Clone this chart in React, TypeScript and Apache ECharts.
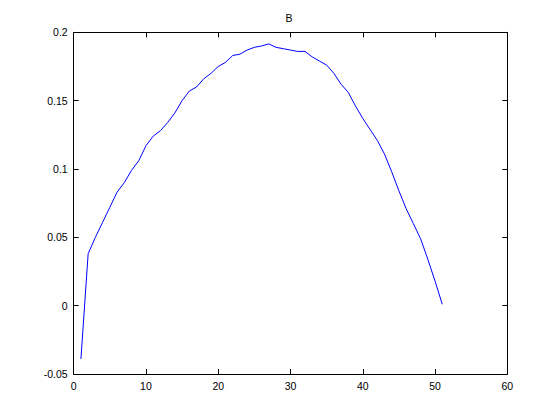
import React, { useEffect, useRef } from "react";
import * as echarts from "echarts";

const xValues = Array.from({ length: 51 }, (_, i) => i + 1);
const yValues = [
  -0.039, 0.038, 0.05, 0.061, 0.072, 0.083, 0.09, 0.099, 0.106, 0.117,
  0.124, 0.128, 0.134, 0.141, 0.15, 0.157, 0.16, 0.166, 0.17, 0.175,
  0.178, 0.183, 0.184, 0.187, 0.189, 0.19, 0.1915, 0.189, 0.188, 0.187,
  0.186, 0.186, 0.182, 0.179, 0.176, 0.17, 0.162, 0.156, 0.146, 0.137,
  0.129, 0.121, 0.111, 0.098, 0.084, 0.071, 0.06, 0.049, 0.034, 0.018,
  0.001,
];
const titleText = "B";

export default function App() {
  const ref = useRef<HTMLDivElement>(null);
  useEffect(() => {
    if (!ref.current) return;
    const chart = echarts.init(ref.current, null, { renderer: "svg" });
    const font = "Liberation Sans, Arial, sans-serif";
    const axisLine = { show: true, onZero: false, lineStyle: { color: "#000", width: 1 } };
    const tick = { show: true, inside: true, length: 5, lineStyle: { color: "#000" } };
    const fmt = (v: number) => String(Math.round(v * 1000) / 1000);
    chart.setOption({
      animation: false,
      backgroundColor: "#fff",
      title: {
        text: titleText,
        left: 285.5,
        top: 12,
        padding: 0,
        textStyle: { fontFamily: font, fontSize: 10.5, fontWeight: "normal", color: "#000" },
      },
      grid: { left: 73.7, right: 52.7, top: 32.3, bottom: 46, containLabel: false },
      xAxis: [
        {
          type: "value", min: 0, max: 60, interval: 10, position: "bottom",
          axisLine, axisTick: tick, splitLine: { show: false },
          axisLabel: { color: "#000", fontFamily: font, fontSize: 10.5, margin: 6 },
        },
        {
          type: "value", min: 0, max: 60, interval: 10, position: "top",
          axisLine, axisTick: tick, splitLine: { show: false }, axisLabel: { show: false },
        },
      ],
      yAxis: [
        {
          type: "value", min: -0.05, max: 0.2, interval: 0.05, position: "left",
          axisLine, axisTick: tick, splitLine: { show: false },
          axisLabel: { color: "#000", fontFamily: font, fontSize: 10.5, margin: 6, formatter: fmt },
        },
        {
          type: "value", min: -0.05, max: 0.2, interval: 0.05, position: "right",
          axisLine, axisTick: tick, splitLine: { show: false }, axisLabel: { show: false },
        },
      ],
      series: [
        {
          type: "line",
          data: xValues.map((x, i) => [x, yValues[i]]),
          showSymbol: false,
          lineStyle: { color: "#0000ff", width: 1 },
          xAxisIndex: 0,
          yAxisIndex: 0,
        },
      ],
    });
    return () => chart.dispose();
  }, []);
  return (
    <div
      ref={ref}
      style={{ position: "fixed", left: 0, top: 0, width: 560, height: 420 }}
    />
  );
}
